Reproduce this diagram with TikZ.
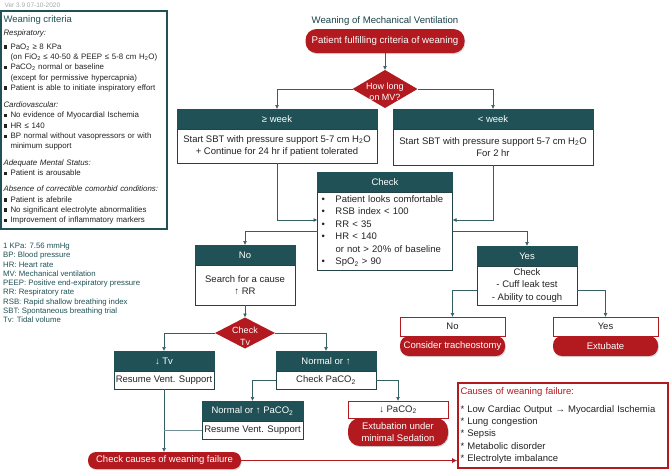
\documentclass[tikz,border=0pt]{standalone}
\usepackage{fontspec}
\setmainfont{Liberation Sans}
\usetikzlibrary{positioning,shapes.geometric,arrows.meta,shadows}

\definecolor{wteal}{RGB}{31,81,86}
\definecolor{wred}{RGB}{178,26,31}
\definecolor{wline}{RGB}{52,96,101}
\definecolor{wtext}{RGB}{35,35,35}

\newcommand{\fs}[2]{\fontsize{#1}{#2}\selectfont}
\newcommand{\sqb}{\makebox[7pt][l]{\rule[0.5pt]{3.4pt}{3.4pt}}}
\newcommand{\bul}{\makebox[14pt][l]{•}}

\tikzstyle{shade}=[drop shadow={shadow xshift=0.8pt,shadow yshift=-1.2pt,opacity=0.3}]
\tikzstyle{hdr}=[shade,fill=wteal,draw=wteal,text=white,minimum height=20,inner sep=0pt,outer sep=0pt,font=\fs{9.5}{11}]
\tikzstyle{bodyb}=[shade,draw=wline!70!black,fill=white,text=wtext,align=center,inner xsep=4pt,inner ysep=2pt,outer sep=0pt,font=\fs{9.5}{12.4}]
\tikzstyle{redbox}=[draw=wred,fill=white,text=wtext,line width=0.6pt,inner sep=0pt,outer sep=0pt,font=\fs{9.5}{11}]
\tikzstyle{pill}=[shade,fill=wred,text=white,align=center,rounded corners=9pt,inner sep=0pt,outer sep=0pt,font=\fs{9.5}{12}]
\tikzstyle{decide}=[diamond,fill=wred,inner sep=0pt,outer sep=0pt]
\tikzstyle{dlbl}=[text=white,align=center,inner sep=0pt,font=\fs{9}{11.5}]
\tikzstyle{arr}=[draw=wline,line width=0.7pt,-{Latex[length=4pt,width=4pt]}]
\tikzstyle{redarr}=[draw=wred,line width=1.4pt,-{Latex[length=5pt,width=5pt]}]
\tikzstyle{link}=[draw=wline!70,line width=0.7pt]

\begin{document}
\begin{tikzpicture}[x=1pt, y=-1pt]
    \useasboundingbox (0,0) rectangle (669,475);
    % Left side: version, criteria and abbreviations
    \node[anchor=west, font=\fs{6.5}{8}, text=black!35] (ver) at (1,5) {Ver 3.9 07-10-2020};
    \node[draw=wteal, line width=1.8pt, fill=white, text=wtext, text width=161, align=left,
          minimum width=166, minimum height=218, inner xsep=2.5pt, inner ysep=3pt, font=\fs{7.9}{10.3}] (crit) at (84,120) {%
        {\fs{9.5}{11}\color{wteal}Weaning criteria}\\[3pt]
        \textit{Respiratory:}\\[3pt]
        \sqb PaO\textsubscript{2} ≥ 8 KPa\\
        \hspace*{7pt}(on FiO\textsubscript{2} ≤ 40-50 \& PEEP ≤ 5-8 cm H\textsubscript{2}O)\\
        \sqb PaCO\textsubscript{2} normal or baseline\\
        \hspace*{7pt}(except for permissive hypercapnia)\\
        \sqb Patient is able to initiate inspiratory effort\\[7pt]
        \textit{Cardiovascular:}\\
        \sqb No evidence of Myocardial Ischemia\\
        \sqb HR ≤ 140\\
        \sqb BP normal without vasopressors or with\\
        \hspace*{7pt}minimum support\\[6.5pt]
        \textit{Adequate Mental Status:}\\
        \sqb Patient is arousable\\[5.5pt]
        \textit{Absence of correctible comorbid conditions:}\\
        \sqb Patient is afebrile\\
        \sqb No significant electrolyte abnormalities\\
        \sqb Improvement of inflammatory markers};
    \node[anchor=north west, align=left, text=wteal, font=\fs{7.8}{9.25}, inner sep=0pt] (abbr) at (3,243) {%
        1 KPa: 7.56 mmHg\\ BP: Blood pressure\\ HR: Heart rate\\ MV: Mechanical ventilation\\
        PEEP: Positive end-expiratory pressure\\ RR: Respiratory rate\\
        RSB: Rapid shallow breathing index\\ SBT: Spontaneous breathing trial\\ Tv: Tidal volume};

    % Title, start and decisions
    \node[font=\fs{9.6}{11}, text=wteal!80!black] (title) at (385,21) {Weaning of Mechanical Ventilation};
    \node[pill, minimum width=159, minimum height=24, rounded corners=11pt, font=\fs{9.7}{12}] (start) at (385,41) {Patient fulfilling criteria of weaning};
    \node[decide, minimum width=65, minimum height=38, label={[dlbl, yshift=-3pt]center:How long\\on MV?}] (mv) at (385,89) {};
    \node[decide, minimum width=60, minimum height=31, label={[dlbl, yshift=-3pt]center:Check\\Tv}] (tv) at (245,333) {};

    % Headers of the boxes
    \foreach \pos/\name/\boxw/\txt in {{(277,119)/wk1h/200/{≥ week}}, {(493,119)/wk2h/200/{< week}},
        {(385,182)/chkh/135/Check}, {(245,255)/noh/100/No}, {(527,256)/yesh/100/Yes},
        {(164,361)/dtvh/100/{↓ Tv}}, {(326,361)/nrmh/100/{Normal or ↑}},
        {(252.5,411)/hyph/101/{Normal or ↑ PaCO\textsubscript{2}}}}
        \node[hdr, minimum width=\boxw] (\name) at \pos {\txt};

    % Bodies under the headers
    \node[bodyb, minimum width=200, minimum height=34, below=0pt of wk1h] (wk1b)
        {Start SBT with pressure support 5-7 cm H\textsubscript{2}O\\+ Continue for 24 hr if patient tolerated};
    \node[bodyb, minimum width=200, minimum height=36, below=0pt of wk2h] (wk2b)
        {Start SBT with pressure support 5-7 cm H\textsubscript{2}O\\For 2 hr};
    \node[bodyb, minimum width=135, minimum height=78, text width=127, align=left, below=0pt of chkh] (chkb)
        {\bul Patient looks comfortable\\ \bul RSB index < 100\\ \bul RR < 35\\ \bul HR < 140\\
         \hspace*{14pt}or not > 20\% of baseline\\ \bul SpO\textsubscript{2} > 90};
    \node[bodyb, minimum width=100, minimum height=40, below=0pt of noh] (nob) {Search for a cause\\↑ RR};
    \node[bodyb, minimum width=100, minimum height=39, below=0pt of yesh] (yesb) {Check\\- Cuff leak test\\- Ability to cough};
    \node[bodyb, minimum width=100, minimum height=18, inner sep=0pt, below=0pt of dtvh] (dtvb) {Resume Vent. Support};
    \node[bodyb, minimum width=100, minimum height=18, inner sep=0pt, below=0pt of nrmh] (nrmb) {Check PaCO\textsubscript{2}};
    \node[bodyb, minimum width=101, minimum height=18, inner sep=0pt, below=0pt of hyph] (hypb) {Resume Vent. Support};

    % Outcomes
    \node[redbox, minimum width=105, minimum height=19] (no2) at (452.5,326.5) {No};
    \node[pill, minimum width=105, minimum height=20, below=0pt of no2] (cons) {Consider tracheostomy};
    \node[redbox, minimum width=105, minimum height=19] (yes2) at (605.5,326.5) {Yes};
    \node[pill, minimum width=105, minimum height=20, below=0pt of yes2] (ext) {Extubate};
    \node[redbox, minimum width=100, minimum height=17] (lowp) at (398,409.5) {↓ PaCO\textsubscript{2}};
    \node[pill, minimum width=100, minimum height=28, rounded corners=12pt, below=0pt of lowp] (exsed) {Extubation under\\minimal Sedation};
    \node[pill, minimum width=153, minimum height=17, rounded corners=8pt] (fail) at (164.5,460.5) {Check causes of weaning failure};
    \node[draw=wred, line width=1.6pt, fill=white, text=wtext, text width=205, align=left,
          minimum width=210, minimum height=85, inner xsep=2.5pt, inner ysep=2pt, font=\fs{9.5}{12.3}] (causes) at (563,425.5) {%
        {\color{wred}Causes of weaning failure:}\\[5.5pt]
        {*} Low Cardiac Output → Myocardial Ischemia\\ {*} Lung congestion\\ {*} Sepsis\\
        {*} Metabolic disorder\\ {*} Electrolyte imbalance};

    % Connect the boxes
    \draw[arr] (start) -- (mv);
    \draw[arr] (mv.west) -| (wk1h.north);
    \draw[arr] (mv.east) -| (wk2h.north);
    \draw[arr] (wk1b.south) |- ([yshift=11pt]chkb.west);
    \draw[arr] (wk2b.south) |- ([yshift=11pt]chkb.east);
    \draw[arr] (chkb.west) -| (noh.north);
    \draw[arr] (chkb.east) -| (yesh.north);
    \draw[arr] ([yshift=-5pt]yesb.west) -| (no2.north);
    \draw[arr] ([yshift=-5pt]yesb.east) -| (yes2.north);
    \draw[arr] (nob) -- (tv);
    \draw[arr] (tv.west) -| (dtvh.north);
    \draw[arr] (tv.east) -| (nrmh.north);
    \draw[arr] (nrmb.west) -| (hyph.north);
    \draw[arr] (nrmb.east) -| (lowp.north);
    \draw[arr] (dtvb.south) -- (dtvb.south |- fail.north);
    \draw[link] (hypb.west) -- (hypb.west -| dtvb.south);
    \draw[redarr] (fail.east) -- (fail.east -| causes.west);
\end{tikzpicture}
\end{document}
